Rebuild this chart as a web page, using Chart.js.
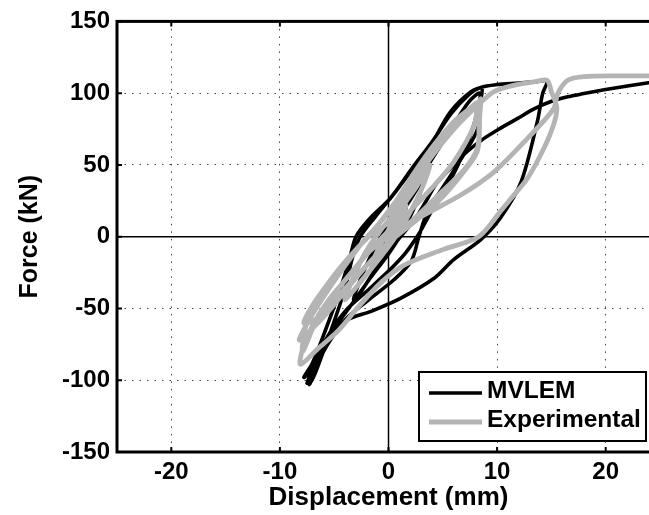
<!DOCTYPE html>
<html>
<head>
<meta charset="utf-8">
<script src="https://cdn.jsdelivr.net/npm/chart.js@4.4.1/dist/chart.umd.min.js"></script>
<style>
  html, body { margin: 0; padding: 0; overflow: hidden; background: #fff; }
  #wrap { position: relative; width: 680px; height: 515px; }
</style>
</head>
<body>
<div id="wrap"><canvas id="chart"></canvas></div>
<script>
// axes
const xTicks = [-20, -10, 0, 10, 20];
const yTicks = [-150, -100, -50, 0, 50, 100, 150];
const xRange = [-25, 25];
const yRange = [-150, 150];

// MVLEM model (displacement mm, force kN)
const mvlemX = [0, 0.8, 1.6, 1.1, 0.3, -0.6, -1.4, -0.9, -0.2,
  1, 2.2, 3.4, 2.8, 2, 1.2, 0, -1.6, -3.2, -2.6, -1.8, -1, 0.2,
  1.5, 3, 4.5, 6, 7.4, 8.4, 8.2, 7.6, 6.4, 5, 3.9, 2.8, 1.5, 0, -2, -4, -5.8, -7, -7.8,
  -7, -5.8, -4.6, -3.6, -3, -1.8, 0.2, 2, 3.9, 5.7, 7.6, 8.6,
  8.4, 8.2, 7, 5.5, 3.6, 2.8, 2.1, 0.5, -2, -4, -5.6, -6.8, -7.3,
  -6.8, -6, -5, -4, -3.3, -2.6, -1.2, 0.5, 2.2, 4, 5.8, 7.4, 8.5, 10, 12, 13.6, 14.6,
  14.2, 13.7, 12.2, 10.3, 8.5, 6, 4.2, 1.1, -1.6, -3.8, -5.4, -6.6, -7.5,
  -7, -6, -4.7, -2.5, -0.7, 1, 2.4, 3.4, 4.4, 5.7, 7.2, 8.8, 10.4, 11.9, 13.4, 14.9, 16.5, 18, 20, 22, 25];
const mvlemY = [0, 10, 20, 10, 0, -10, -20, -10, 0,
  14, 28, 42, 28, 14, 2, -12, -28, -44, -30, -16, -4, 10,
  24, 42, 60, 78, 94, 100, 88, 72, 50, 30, 17, 2, -12, -24, -38, -52, -72, -92, -98,
  -88, -65, -40, -16, 0, 12, 27, 45, 64, 87, 101, 103.5,
  92, 75, 58, 40, 17.6, 0, -17, -30, -45, -58, -75, -92, -103,
  -96, -80, -59, -36, -14, 0, 14, 30, 48, 66, 86, 99, 104, 106, 107, 108, 108.5,
  100, 80, 38, 13, -2, -16, -29, -43, -52, -58, -70, -86, -102,
  -95, -80, -61, -38, -17, -1, 12, 24, 37, 47.6, 59, 68.5, 76, 82.4, 89, 94, 97.5, 99.7, 102.5, 105, 108.5];

// Experimental test
const expX = [0, 0.8, 1.6, 1.2, 0.3, -0.8, -1.6, -1, -0.2,
  1, 2.5, 3.8, 3.2, 2.2, 1, -0.5, -2.2, -4, -3.2, -2.2, -1, 0.5,
  2, 3.6, 5.2, 6.8, 8, 8.3, 8.2, 7, 5, 3, 1, -1, -3, -5, -6.8, -7.8,
  -7, -5.9, -4.5, -3, -1.6, 0.2, 1.4, 2.4, 3.9, 5.4, 7, 8.2, 8.5,
  8.4, 8.2, 6.8, 4.5, 2, 0.2, -2, -4, -6, -8.2,
  -7.6, -6.5, -5.2, -3.8, -2.4, -1, 0.8, 2.5, 4.2, 6, 7.6, 8.1,
  7.9, 6, 4, 2, 0, -2.2, -4.4, -6.4, -7.9,
  -7.6, -6.5, -5.2, -3.8, -2.4, -1, 0.8, 2.8, 4.6, 6.4, 8, 9.7, 11.6, 13.5, 14.6,
  15, 15.5, 15.2, 14.3, 12.8, 11.3, 10.3, 8.3, 5, 1.4, -0.7, -2.9, -4.7, -6.5, -8.1,
  -7.9, -7, -5.5, -3.5, -2, 0, 3, 6.65, 9.7, 12.8, 15.2, 15.6, 16.5, 18, 21, 25];
const expY = [0, 12, 22, 12, 0, -12, -22, -10, 2,
  18, 34, 50, 36, 20, 4, -12, -28, -44, -28, -12, 2, 16,
  34, 52, 68, 82, 92, 80, 62, 47, 32, 17, 3, -12, -28, -44, -58, -60,
  -48, -36, -22, -9, 1.4, 11, 25, 38.4, 57, 73, 84.7, 91.7, 96,
  84, 60, 44, 24, 8, -3, -20, -38, -56, -72,
  -62, -48, -33, -18, -4, 8, 26, 46, 64, 80, 90, 93,
  78, 52, 34, 18, 4, -14, -34, -54, -80,
  -62, -48, -33, -18, -4, 8, 24, 44, 62, 78, 90, 101, 105.6, 108, 109,
  101, 90, 78, 61.5, 40.7, 26.8, 17.6, 0, -9, -20, -32, -50, -66, -78, -89,
  -78, -62, -44, -26, -12, 0, 14, 29, 45, 68.5, 89, 100, 109, 111.5, 112, 112];

const toPoints = (xs, ys) => xs.map((x, i) => ({ x, y: ys[i] }));

Chart.defaults.font.family = '"Liberation Sans", Arial, Helvetica, sans-serif';
Chart.defaults.font.weight = 'bold';
Chart.defaults.color = '#000';

// MATLAB style frame: zero lines, box, inward ticks and boxed legend
const matlabFrame = {
  id: 'matlabFrame',
  beforeDatasetsDraw(chart) {
    const { ctx, chartArea: a, scales: { x, y } } = chart;
    const x0 = x.getPixelForValue(0);
    const y0 = y.getPixelForValue(0);
    ctx.save();
    ctx.strokeStyle = '#000';
    ctx.lineWidth = 1.5;
    ctx.beginPath();
    ctx.moveTo(x0, a.top); ctx.lineTo(x0, a.bottom);
    ctx.moveTo(a.left, y0); ctx.lineTo(a.right, y0);
    ctx.stroke();
    ctx.restore();
  },
  afterDatasetsDraw(chart) {
    const { ctx, chartArea: a, scales: { x, y } } = chart;
    ctx.save();
    ctx.strokeStyle = '#000';
    ctx.lineWidth = 2;
    ctx.beginPath();
    xTicks.forEach(v => {
      const px = x.getPixelForValue(v);
      ctx.moveTo(px, a.bottom); ctx.lineTo(px, a.bottom - 5);
      ctx.moveTo(px, a.top); ctx.lineTo(px, a.top + 5);
    });
    yTicks.forEach(v => {
      const py = y.getPixelForValue(v);
      ctx.moveTo(a.left, py); ctx.lineTo(a.left + 5, py);
      ctx.moveTo(a.right, py); ctx.lineTo(a.right - 5, py);
    });
    ctx.stroke();
    ctx.lineWidth = 3;
    ctx.strokeRect(a.left, a.top, a.right - a.left, a.bottom - a.top);

    // legend
    const boxW = 227, boxH = 69;
    const bx = a.right - 14 - boxW, by = a.bottom - 11 - boxH;
    ctx.fillStyle = '#fff';
    ctx.fillRect(bx, by, boxW, boxH);
    ctx.lineWidth = 2;
    ctx.strokeRect(bx, by, boxW, boxH);
    ctx.font = 'bold 24.5px "Liberation Sans", Arial, sans-serif';
    ctx.textBaseline = 'middle';
    chart.data.datasets.forEach((ds, i) => {
      const ly = by + 19 + i * 29;
      ctx.strokeStyle = ds.borderColor;
      ctx.lineWidth = ds.borderWidth;
      ctx.beginPath();
      ctx.moveTo(bx + 10, ly + 2); ctx.lineTo(bx + 63, ly + 2);
      ctx.stroke();
      ctx.fillStyle = '#000';
      ctx.fillText(ds.label, bx + 68, ly);
    });
    ctx.restore();
  }
};

const gridColor = (c) => (c.tick && c.tick.value === 0) ? 'rgba(0,0,0,0)' : '#444';

new Chart(document.getElementById('chart'), {
  type: 'scatter',
  data: {
    datasets: [
      {
        label: 'MVLEM',
        data: toPoints(mvlemX, mvlemY),
        showLine: true,
        borderColor: '#000',
        borderWidth: 3.6,
        pointRadius: 0,
        tension: 0.3,
        order: 1
      },
      {
        label: 'Experimental',
        data: toPoints(expX, expY),
        showLine: true,
        borderColor: '#b4b4b4',
        borderWidth: 4.8,
        pointRadius: 0,
        tension: 0.3,
        order: 0
      }
    ]
  },
  options: {
    animation: false,
    responsive: true,
    maintainAspectRatio: false,
    layout: { padding: { top: 19, right: 20, left: 0, bottom: 0 } },
    plugins: { legend: { display: false }, tooltip: { enabled: false } },
    scales: {
      x: {
        type: 'linear',
        min: xRange[0],
        max: xRange[1],
        afterBuildTicks: s => { s.ticks = xTicks.map(value => ({ value })); },
        afterFit: s => { s.height = 63; },
        grid: { color: gridColor, lineWidth: 1, drawTicks: false },
        border: { display: false, dash: [1.5, 6] },
        ticks: { padding: 6, font: { size: 24, weight: 'bold' }, maxRotation: 0 },
        title: { display: true, text: 'Displacement (mm)', font: { size: 26, weight: 'bold' }, padding: { top: 0, bottom: 2 } }
      },
      y: {
        type: 'linear',
        min: yRange[0],
        max: yRange[1],
        afterBuildTicks: s => { s.ticks = yTicks.map(value => ({ value })); },
        afterFit: s => { s.width = 117; },
        grid: { color: gridColor, lineWidth: 1, drawTicks: false },
        border: { display: false, dash: [1.5, 6] },
        ticks: { padding: 7, font: { size: 24, weight: 'bold' } },
        title: { display: true, text: 'Force (kN)', font: { size: 25, weight: 'bold' }, padding: { top: 15, bottom: 0 } }
      }
    }
  },
  plugins: [matlabFrame]
});
</script>
</body>
</html>
